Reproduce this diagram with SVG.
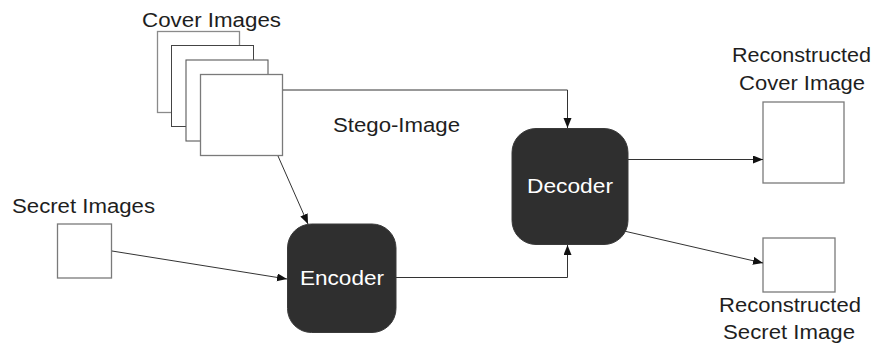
<svg xmlns="http://www.w3.org/2000/svg" width="876" height="347" viewBox="0 0 876 347">
  <style>
    .lbl { font-family: "Liberation Sans", Arial, sans-serif; font-size: 20px; fill: #1e1e1e; }
    .node-text { font-family: "Liberation Sans", Arial, sans-serif; font-size: 21px; fill: #ffffff; }
    .block { fill: #2f2f2f; stroke: #3a3a3a; stroke-width: 1; }
    .img { fill: #ffffff; stroke: #7a7a7a; stroke-width: 1.3; }
    .conn { fill: none; stroke: #333333; stroke-width: 1; }
  </style>
  <defs>
    <marker id="arrow" markerUnits="userSpaceOnUse" markerWidth="11" markerHeight="9" refX="10" refY="4" orient="auto">
      <path d="M0,0 L10,4 L0,8 z" fill="#111111"/>
    </marker>
  </defs>
  <rect width="876" height="347" fill="#ffffff"/>

  <!-- stacked cover images -->
  <g id="cover-images">
    <rect class="img" x="157.5" y="31.5" width="82" height="81" style="stroke:#8a8a8a"/>
    <rect class="img" x="171.5" y="45.5" width="82" height="81" style="stroke:#444444;stroke-width:1"/>
    <rect class="img" x="186" y="60" width="82" height="81" style="stroke:#5a5a5a;stroke-width:1.1"/>
    <rect class="img" x="200.5" y="74.5" width="82" height="81" style="stroke:#7a7a7a"/>
    <text class="lbl" x="142" y="26.5" textLength="139" lengthAdjust="spacingAndGlyphs">Cover Images</text>
  </g>

  <!-- secret image -->
  <g id="secret-images">
    <rect class="img" x="57.5" y="224" width="54" height="54"/>
    <text class="lbl" x="12" y="212.5" textLength="143" lengthAdjust="spacingAndGlyphs">Secret Images</text>
  </g>

  <!-- encoder block -->
  <g id="encoder">
    <rect class="block" x="287.5" y="224" width="108.5" height="108.5" rx="24" ry="24"/>
    <text class="node-text" x="300" y="285" textLength="84" lengthAdjust="spacingAndGlyphs">Encoder</text>
  </g>

  <!-- decoder block -->
  <g id="decoder">
    <rect class="block" x="512" y="128.5" width="116" height="116" rx="24" ry="24"/>
    <text class="node-text" x="527" y="193" textLength="86" lengthAdjust="spacingAndGlyphs">Decoder</text>
  </g>

  <!-- stego label -->
  <g id="stego-image">
    <text class="lbl" x="333" y="131.5" textLength="127" lengthAdjust="spacingAndGlyphs">Stego-Image</text>
  </g>

  <!-- reconstructed cover -->
  <g id="reconstructed-cover">
    <rect class="img" x="763" y="102" width="81" height="81"/>
    <text class="lbl" x="732" y="62" textLength="139" lengthAdjust="spacingAndGlyphs">Reconstructed</text>
    <text class="lbl" x="739" y="90" textLength="126" lengthAdjust="spacingAndGlyphs">Cover Image</text>
  </g>

  <!-- reconstructed secret -->
  <g id="reconstructed-secret">
    <rect class="img" x="763" y="238" width="72" height="54"/>
    <text class="lbl" x="719" y="312" textLength="142" lengthAdjust="spacingAndGlyphs">Reconstructed</text>
    <text class="lbl" x="723" y="339" textLength="132" lengthAdjust="spacingAndGlyphs">Secret Image</text>
  </g>

  <!-- connectors -->
  <g id="connectors">
    <path class="conn" d="M283,90 H567.5 V128" marker-end="url(#arrow)"/>
    <path class="conn" d="M278,156 L308,224" marker-end="url(#arrow)"/>
    <path class="conn" d="M112,251 L287,279" marker-end="url(#arrow)"/>
    <path class="conn" d="M396,277.5 H567.5 V245" marker-end="url(#arrow)"/>
    <path class="conn" d="M628,159.5 H763" marker-end="url(#arrow)"/>
    <path class="conn" d="M624,231 L763,263" marker-end="url(#arrow)"/>
  </g>
</svg>
